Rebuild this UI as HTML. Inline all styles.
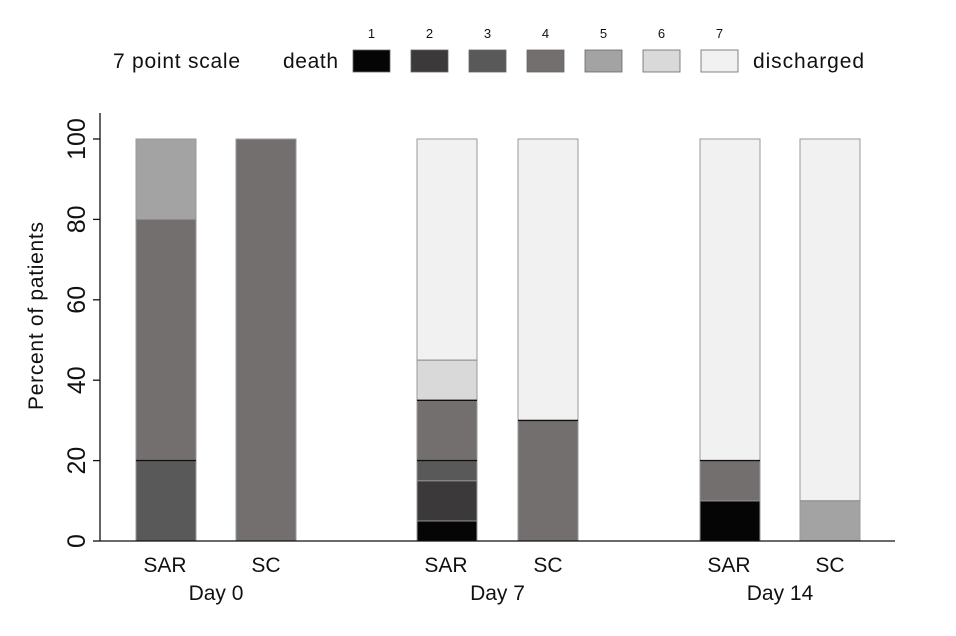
<!DOCTYPE html>
<html><head><meta charset="utf-8"><style>
body{margin:0;background:#fff;}
svg{display:block;font-family:"Liberation Sans",Arial,sans-serif;}
</style></head><body>
<svg id="chart" width="956" height="636" viewBox="0 0 956 636">
<g id="legend">
<text x="113" y="68" font-size="21" fill="#111" textLength="127">7 point scale</text>
<text x="283" y="68" font-size="21" fill="#111" textLength="55">death</text>
<text x="753" y="68" font-size="21" fill="#111" textLength="111">discharged</text>
</g>
<g id="plot"></g>
</svg>
<script>
const categories=["SAR","SC","SAR","SC","SAR","SC"];
const days=["Day 0","Day 7","Day 14"];
const levels=["1","2","3","4","5","6","7"];
const colors=["#050505","#3b393a","#595959","#736f6e","#a3a3a3","#d9d9d9","#f1f1f1"];
// percent per level (1..7) for each bar
const day0SAR=[0,0,20,60,20,0,0];
const day0SC=[0,0,0,100,0,0,0];
const day7SAR=[5,10,5,15,0,10,55];
const day7SC=[0,0,0,30,0,0,70];
const day14SAR=[10,0,0,10,0,0,80];
const day14SC=[0,0,0,0,10,0,90];
const yTicks=[0,20,40,60,80,100];

const NS="http://www.w3.org/2000/svg";
const plot=document.getElementById('plot');
const legend=document.getElementById('legend');
function el(t,a,p){const e=document.createElementNS(NS,t);for(const k in a)e.setAttribute(k,a[k]);(p||plot).appendChild(e);return e;}
const y0=541,y100=139;
function yScale(v){return y0-(y0-y100)*v/100;}
const barX=[136,236,417,518,700,800];const bw=60;
function xScale(i){return barX[i];}
const bars=[day0SAR,day0SC,day7SAR,day7SC,day14SAR,day14SC];

levels.forEach((l,i)=>{
  const x=353+i*58;
  const r=el('rect',{x:x,y:50,width:37,height:22,fill:colors[i],stroke:'#666','stroke-width':0.8},legend);
  
  
  const t=el('text',{x:x+18.5,y:38,'font-size':13,'text-anchor':'middle',fill:'#111'},legend);
  t.textContent=l;
  
  
});

bars.forEach((vals,bi)=>{
  let cum=0,prev=-1;
  vals.forEach((v,li)=>{
    if(v<=0)return;
    const yt=yScale(cum+v),yb=yScale(cum);
    const r=el('rect',{x:xScale(bi),y:yt,width:bw,height:yb-yt,fill:colors[li],stroke:'#999','stroke-width':1});
    
    
    if(cum>0){
      const dark=(prev===2||prev===3)&&li!==4;
      const ln=el('line',{x1:xScale(bi),x2:xScale(bi)+bw,y1:yb,y2:yb,stroke:dark?'#111':'#888','stroke-width':dark?1.4:0.8});
      
      
    }
    cum+=v;prev=li;
  });
  const t=el('text',{x:xScale(bi)+bw/2-(bi%2?0:1),y:572,'font-size':21,'text-anchor':'middle',fill:'#111'});
  t.textContent=categories[bi];
  
  
});
days.forEach((d,i)=>{
  const t=el('text',{x:(xScale(2*i)+xScale(2*i+1)+bw)/2,y:600,'font-size':21,'text-anchor':'middle',fill:'#111'});
  t.textContent=d;
  
  
});

const ya=el('line',{x1:100,x2:100,y1:113,y2:541,stroke:'#111','stroke-width':1.3});


const xa=el('line',{x1:100,x2:895,y1:541,y2:541,stroke:'#111','stroke-width':1.3});


yTicks.forEach(v=>{
  const y=yScale(v);
  const tk=el('line',{x1:93,x2:100,y1:y,y2:y,stroke:'#111','stroke-width':1.3});
  
  
  const t=el('text',{x:0,y:0,'font-size':25,'text-anchor':'middle',fill:'#111',transform:`translate(85,${y}) rotate(-90)`});
  t.textContent=v;
  
  
});
const yt=el('text',{x:0,y:0,'font-size':21,'text-anchor':'middle',fill:'#111',textLength:188,transform:'translate(43,316) rotate(-90)'});
yt.textContent='Percent of patients';


</script>
</body></html>
